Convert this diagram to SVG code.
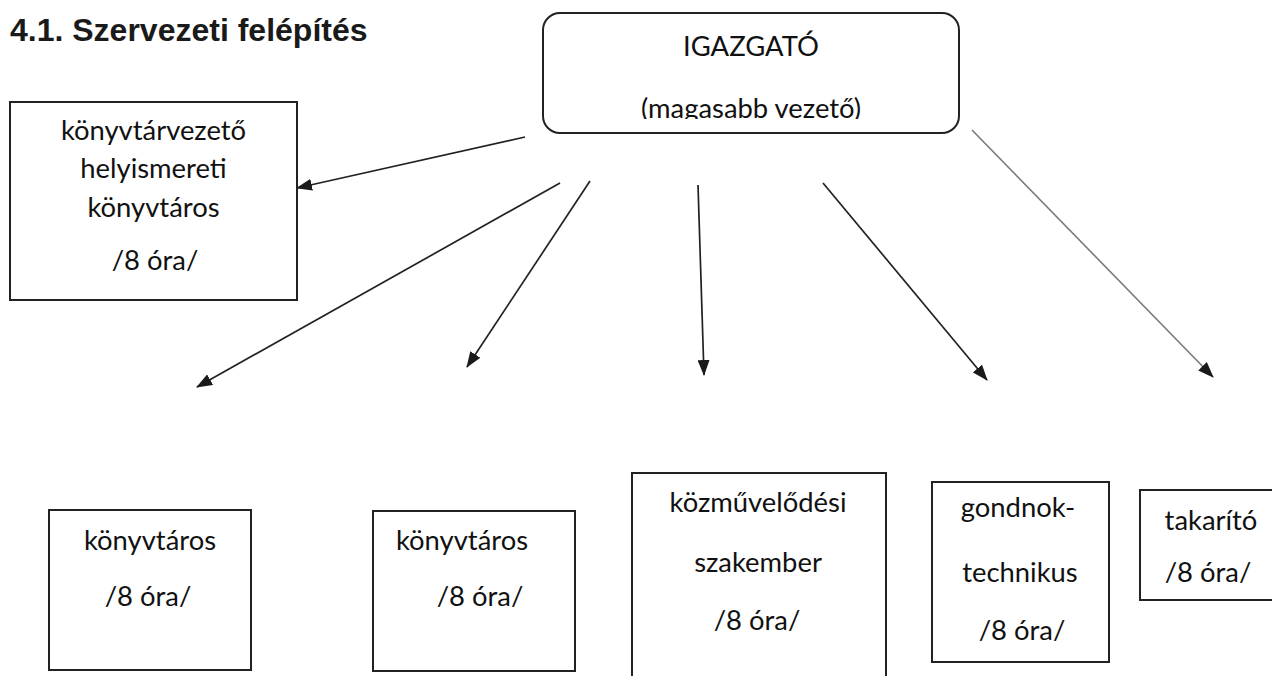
<svg xmlns="http://www.w3.org/2000/svg" width="1272" height="676" viewBox="0 0 1272 676">
  <style>
    .box { fill: #ffffff; stroke: #222222; stroke-width: 2; }
    .lbl { font-family: Lato, "Open Sans", "Liberation Sans", sans-serif; font-size: 27.4px; fill: #111111; text-anchor: middle; }
    .title { font-family: "Liberation Sans", Arial, sans-serif; font-size: 32px; font-weight: bold; fill: #1a1a1a; }
    .conn { stroke: #222222; stroke-width: 1.7; fill: none; marker-end: url(#arrow); }
    .conn.gray { stroke: #7a7a7a; stroke-width: 1.6; }
  </style>
  <defs>
    <marker id="arrow" markerUnits="userSpaceOnUse" markerWidth="16" markerHeight="12" refX="15" refY="6" orient="auto">
      <path d="M0,0 L16,6 L0,12 z" fill="#1a1a1a"/>
    </marker>
    <clipPath id="clipTop">
      <rect x="540" y="0" width="425" height="119"/>
    </clipPath>
  </defs>
  <rect width="1272" height="676" fill="#ffffff"/>

  <text class="title" x="10" y="41">4.1. Szervezeti felépítés</text>

  <g id="connectors">
    <line class="conn" x1="525" y1="137" x2="297" y2="188"/>
    <line class="conn" x1="560" y1="183" x2="197" y2="387"/>
    <line class="conn" x1="590" y1="181" x2="467" y2="367"/>
    <line class="conn" x1="698" y1="185" x2="704" y2="375"/>
    <line class="conn" x1="823" y1="183" x2="987" y2="380"/>
    <line class="conn gray" x1="972" y1="130" x2="1213" y2="377"/>
  </g>

  <g id="igazgato">
    <rect class="box" x="543" y="13" width="416" height="120" rx="17" ry="17"/>
    <text class="lbl" x="751" y="56">IGAZGATÓ</text>
    <text class="lbl" x="751" y="118" clip-path="url(#clipTop)">(magasabb vezető)</text>
  </g>

  <g id="konyvtarvezeto">
    <rect class="box" x="10" y="102" width="287" height="198"/>
    <text class="lbl" x="153.5" y="140">könyvtárvezető</text>
    <text class="lbl" x="153.5" y="178">helyismereti</text>
    <text class="lbl" x="153.5" y="217">könyvtáros</text>
    <text class="lbl" x="155" y="270">/8 óra/</text>
  </g>

  <g id="konyvtaros1">
    <rect class="box" x="49" y="510" width="202" height="160"/>
    <text class="lbl" x="150" y="550">könyvtáros</text>
    <text class="lbl" x="148" y="606">/8 óra/</text>
  </g>

  <g id="konyvtaros2">
    <rect class="box" x="373" y="511" width="202" height="160"/>
    <text class="lbl" x="462" y="550">könyvtáros</text>
    <text class="lbl" x="480" y="606">/8 óra/</text>
  </g>

  <g id="kozmuvelodesi">
    <rect class="box" x="632" y="473" width="254" height="230"/>
    <text class="lbl" x="758" y="512">közművelődési</text>
    <text class="lbl" x="758" y="572">szakember</text>
    <text class="lbl" x="757" y="630">/8 óra/</text>
  </g>

  <g id="gondnok">
    <rect class="box" x="932" y="482" width="177" height="180"/>
    <text class="lbl" x="1018" y="517">gondnok-</text>
    <text class="lbl" x="1020" y="582">technikus</text>
    <text class="lbl" x="1022" y="640">/8 óra/</text>
  </g>

  <g id="takarito">
    <rect class="box" x="1140" y="490" width="160" height="110"/>
    <text class="lbl" x="1211" y="530">takarító</text>
    <text class="lbl" x="1208" y="582">/8 óra/</text>
  </g>
</svg>
